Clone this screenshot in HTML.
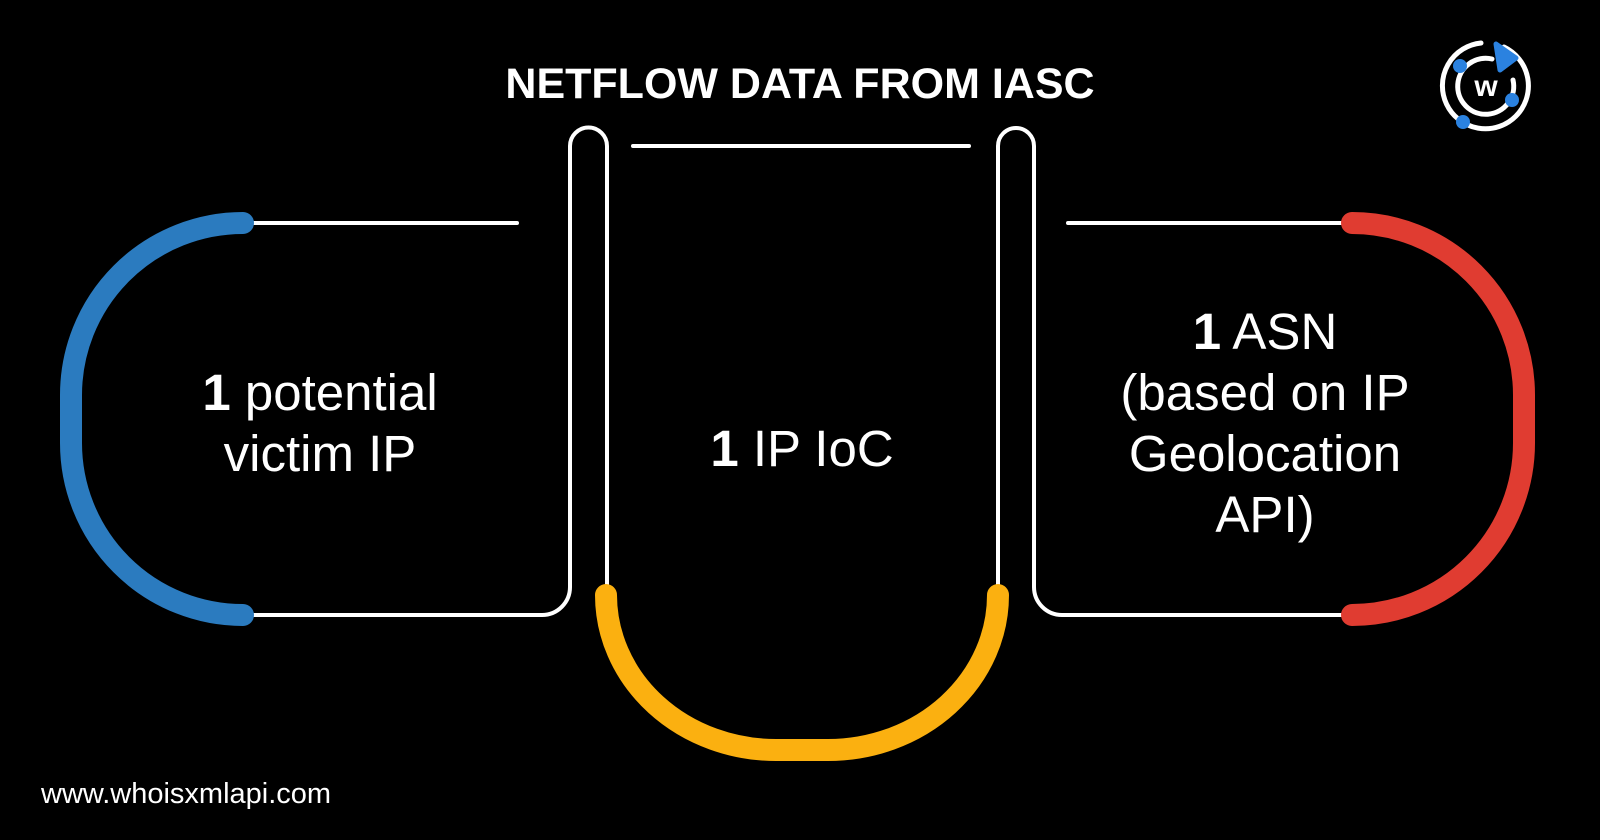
<!DOCTYPE html>
<html><head><meta charset="utf-8"><style>
html,body{margin:0;padding:0;background:#000;}
body{width:1600px;height:840px;overflow:hidden;position:relative;font-family:"Liberation Sans",sans-serif;color:#fff;}
.t{position:absolute;text-align:center;font-size:51px;line-height:61px;}
b{font-weight:bold;}
</style></head><body>
<svg width="1600" height="840" style="position:absolute;left:0;top:0">
<g fill="none" stroke="#fff" stroke-width="4" stroke-linecap="round">
<line x1="633" y1="146" x2="969" y2="146"/>
<line x1="250" y1="223" x2="517" y2="223"/>
<line x1="1068" y1="223" x2="1347" y2="223"/>
<path d="M607,592 V146 A18.5,18.5 0 0 0 570,146 V587 A28,28 0 0 1 542,615 H245"/>
<path d="M998,592 V146 A18,18 0 0 1 1034,146 V587 A28,28 0 0 0 1062,615 H1350"/>
</g>
<g fill="none" stroke-width="22" stroke-linecap="round">
<path d="M243,223 A172,172 0 0 0 71,395 V443 A172,172 0 0 0 243,615" stroke="#2b7bbf"/>
<path d="M1352,223 A172,172 0 0 1 1524,395 V443 A172,172 0 0 1 1352,615" stroke="#e03c31"/>
<path d="M606,595 A170,155 0 0 0 776,750 H828 A170,155 0 0 0 998,595" stroke="#fbb010"/>
</g>
<g transform="translate(1486,86)">
<path d="M18,-39 A43,43 0 1 1 -5,-43" fill="none" stroke="#fff" stroke-width="5" stroke-linecap="round"/>
<path d="M27,-6 A28,28 0 1 1 6,-27" fill="none" stroke="#fff" stroke-width="5" stroke-linecap="round"/>
<path d="M10,-42 L30,-28 L14,-16 Z" fill="#2b82e0" stroke="#2b82e0" stroke-width="5" stroke-linejoin="round"/>
<circle cx="-26" cy="-20" r="7" fill="#2b82e0"/>
<circle cx="26" cy="14" r="7" fill="#2b82e0"/>
<circle cx="-23" cy="36" r="7" fill="#2b82e0"/>
<text x="0" y="10" text-anchor="middle" font-family="Liberation Sans" font-weight="bold" font-size="30" fill="#fff">w</text>
</g>
</svg>
<div style="position:absolute;left:300px;width:1000px;top:58px;text-align:center;font-size:43px;font-weight:bold;line-height:52px;">NETFLOW DATA FROM IASC</div>
<div class="t" style="left:120px;width:400px;top:362px;"><b>1</b> potential<br>victim IP</div>
<div class="t" style="left:602px;width:400px;top:418px;"><b>1</b> IP IoC</div>
<div class="t" style="left:1015px;width:500px;top:301px;"><b>1</b> ASN<br>(based on IP<br>Geolocation<br>API)</div>
<div style="position:absolute;left:41px;top:778px;font-size:29px;">www.whoisxmlapi.com</div>
</body></html>
